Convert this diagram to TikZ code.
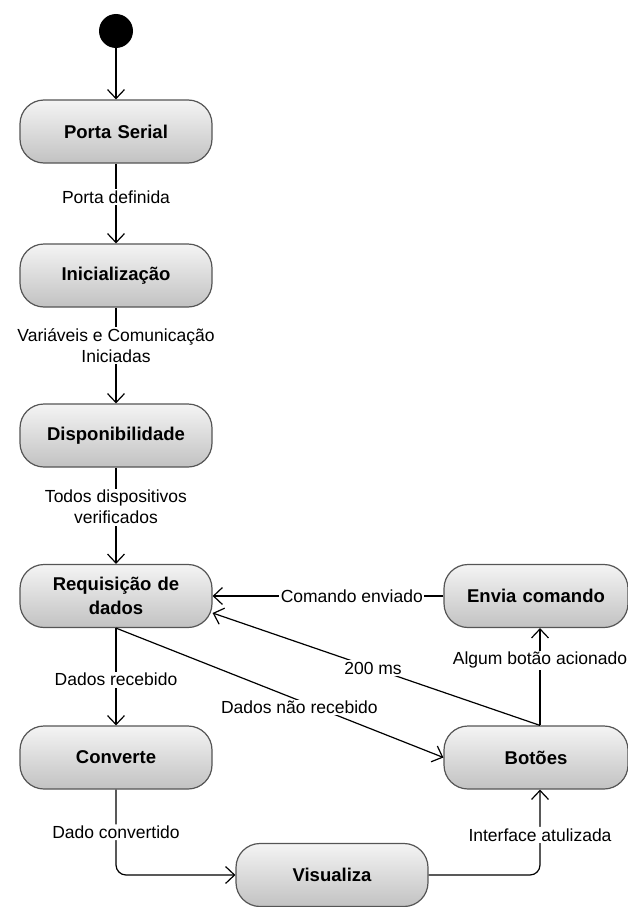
\documentclass[tikz,border=0pt]{standalone}
\usepackage{fontspec}
\setmainfont{Liberation Sans}
\usetikzlibrary{arrows.meta,calc}
\definecolor{boxtop}{HTML}{F4F4F4}
\definecolor{boxbot}{HTML}{C2C2C2}
\definecolor{boxline}{HTML}{555555}
\tikzset{
 stbox/.style={draw=boxline, line width=1.2pt, rounded corners=24pt, top color=boxtop, bottom color=boxbot,
   minimum width=192pt, minimum height=63pt, text width=180pt, align=center,
   font=\fontsize{18.5}{24}\selectfont\bfseries, inner sep=0pt},
 rbox/.style={stbox, minimum width=184pt, text width=176pt},
 flow/.style={draw=black, line width=1.2pt, -{Straight Barb[length=9pt,width=17pt]}},
 lbl/.style={fill=white, inner sep=1.5pt, font=\fontsize{17.5}{21}\selectfont, align=center},
}
\begin{document}
\begin{tikzpicture}[x=1pt,y=-1pt]
\useasboundingbox (0,0) rectangle (627,907);
\node[circle, fill=black, minimum size=34pt, inner sep=0pt] (start) at (116,31) {};
\node[stbox] (ps) at (116,131.5) {Porta Serial};
\node[stbox] (ini) at (116,275.5) {Inicialização};
\node[stbox] (disp) at (116,435.5) {Disponibilidade};
\node[stbox] (req) at (116,596) {Requisição de\\dados};
\node[stbox] (conv) at (116,757.5) {Converte};
\node[stbox] (vis) at (332,875) {Visualiza};
\node[rbox] (env) at (536,596) {Envia comando};
\node[rbox] (bot) at (536,757.5) {Botões};

\coordinate (bn) at ($(bot.north)+(4,0)$);
\coordinate (bs) at ($(bot.south)+(4,0)$);
\coordinate (en) at ($(env.south)+(4,0)$);
\coordinate (rq2) at ($(req.east)+(0,17)$);

\draw[flow] (start) -- (ps);
\draw[flow] (ps) -- node[lbl,pos=0.42]{Porta definida} (ini);
\draw[flow] (ini) -- node[lbl,pos=0.4]{Variáveis e Comunicação\\Iniciadas} (disp);
\draw[flow] (disp) -- node[lbl,pos=0.41]{Todos dispositivos\\verificados} (req);
\draw[flow] (req) -- node[lbl,pos=0.53]{Dados recebido} (conv);
\draw[flow, rounded corners=10pt] (conv.south) |- node[lbl,pos=0.25]{Dado convertido} (vis.west);
\draw[flow, rounded corners=10pt] (vis.east) -| node[lbl,pos=0.735]{Interface atulizada} (bs);
\draw[flow] (bn) -- node[lbl,pos=0.67]{Algum botão acionado} (en);
\draw[flow] (env.west) -- node[lbl,pos=0.397]{Comando enviado} (req.east);
\draw[flow] (bn) -- node[lbl,pos=0.51]{200 ms} (rq2);
\draw[flow] (req.south) -- node[lbl,pos=0.56,yshift=-7pt]{Dados não recebido} (bot.west);
\end{tikzpicture}
\end{document}
